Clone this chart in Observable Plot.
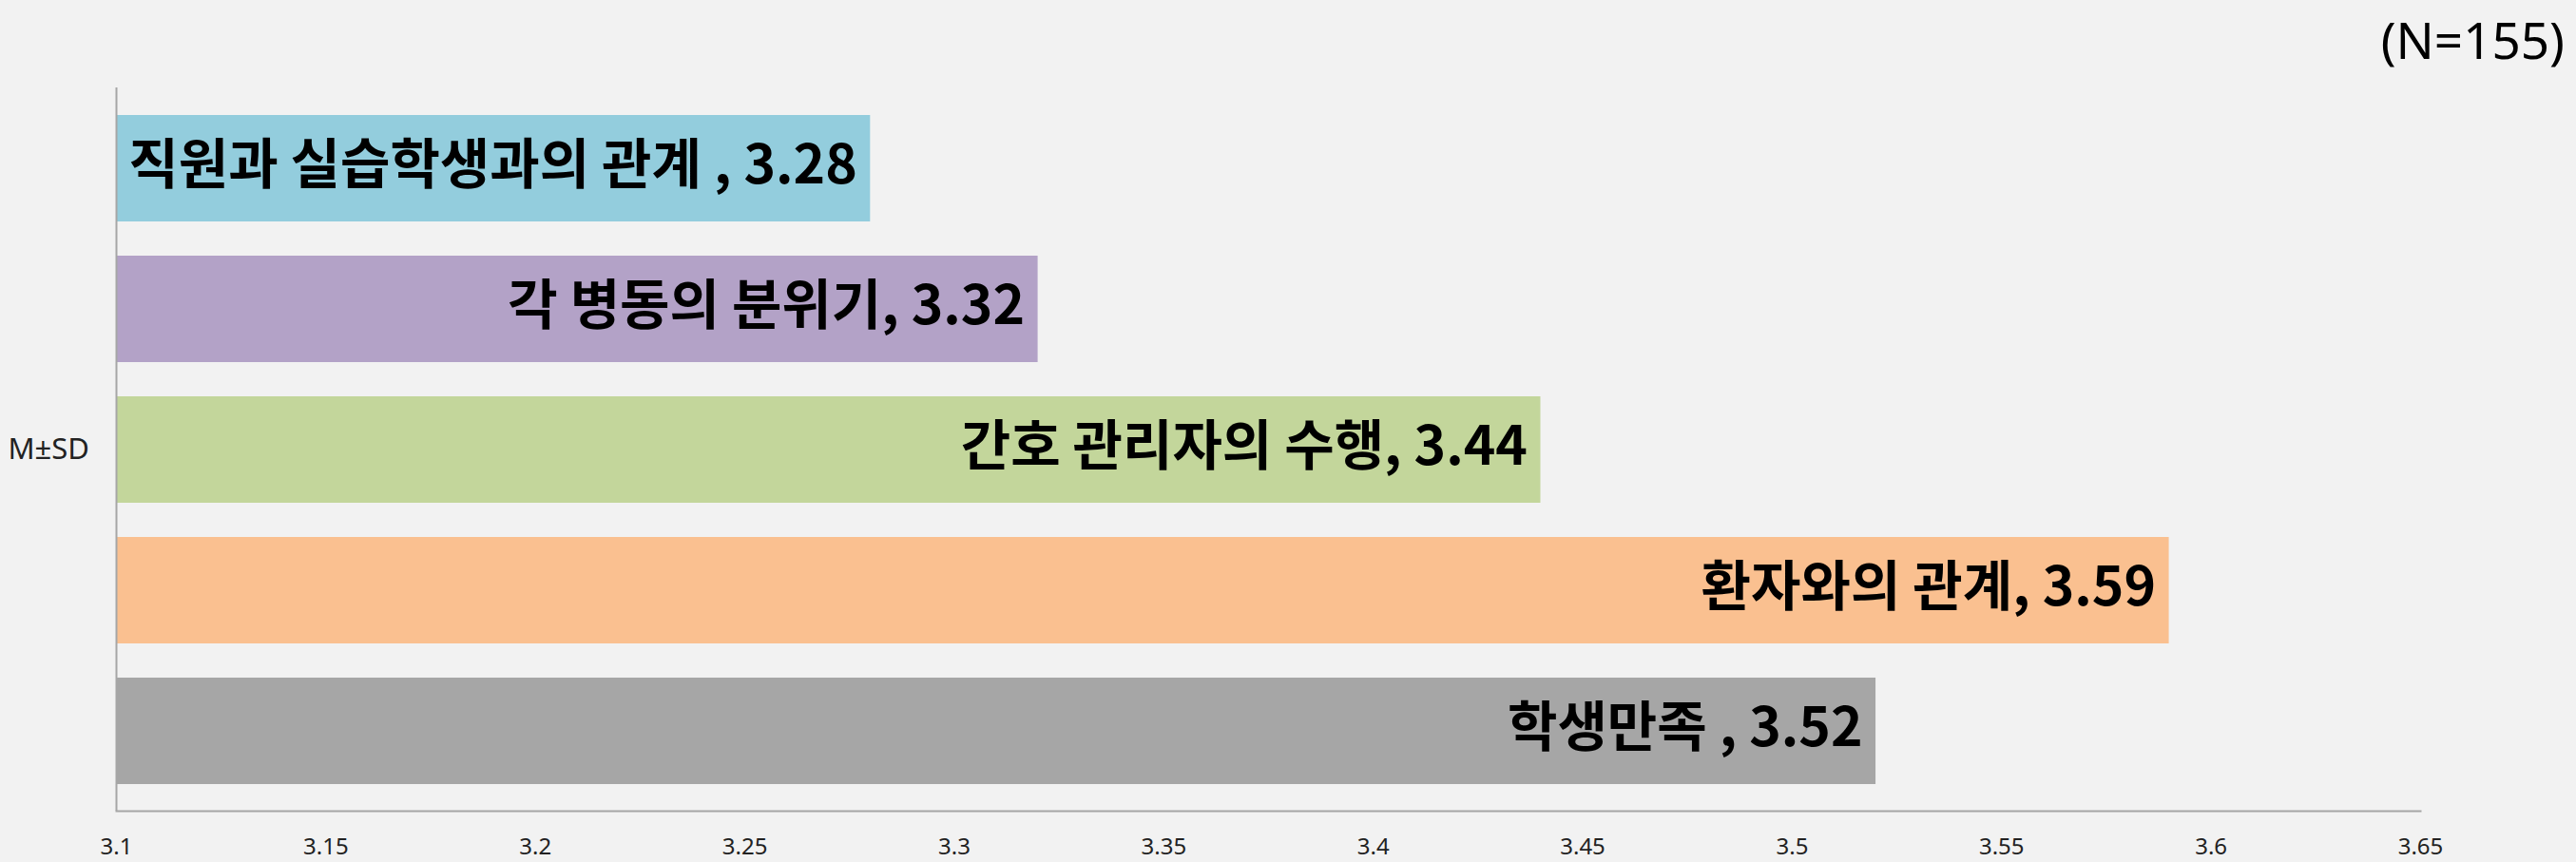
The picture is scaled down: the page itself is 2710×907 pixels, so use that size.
<!DOCTYPE html>
<html>
<head>
<meta charset="utf-8">
<script src="https://cdn.jsdelivr.net/npm/d3@7"></script>
<script src="https://cdn.jsdelivr.net/npm/@observablehq/plot@0.6"></script>
<style>
  html, body { margin: 0; padding: 0; background: #F2F2F2; }
  #wrap { position: relative; width: 2710px; height: 907px; }
  #n { position: absolute; right: 12px; top: 10px; font-family: "Noto Sans", "Open Sans", sans-serif; font-size: 53px; color: #000; line-height: 1.2; }
</style>
</head>
<body>
<div id="wrap">
  <div id="n">(N=155)</div>
</div>
<script>
const categories = ["직원과 실습학생과의 관계 ", "각 병동의 분위기", "간호 관리자의 수행", "환자와의 관계", "학생만족 "];
const values = [3.28, 3.32, 3.44, 3.59, 3.52];
const colors = ["#93CDDD", "#B3A2C7", "#C3D69B", "#FAC090", "#A6A6A6"];
const xTicks = [3.1, 3.15, 3.2, 3.25, 3.3, 3.35, 3.4, 3.45, 3.5, 3.55, 3.6, 3.65];
const xMin = 3.1, xMax = 3.65;
const yLabel = "M±SD";

const data = categories.map((c, i) => ({
  category: c,
  value: values[i],
  color: colors[i],
  label: c + ", " + values[i].toFixed(2)
}));

const font = "'Noto Sans CJK KR', 'Noto Sans', sans-serif";

const chart = Plot.plot({
  width: 2710,
  height: 907,
  marginLeft: 122,
  marginRight: 164,
  marginTop: 92,
  marginBottom: 54,
  style: { background: "#F2F2F2", fontFamily: "'Noto Sans', 'Open Sans', sans-serif", color: "#222", fontSize: "24px" },
  x: { domain: [xMin, xMax], ticks: xTicks, tickFormat: d => String(+d.toFixed(2)), tickSize: 0, tickPadding: 28, label: null },
  y: { domain: categories, axis: null, paddingInner: 0.246, paddingOuter: 0.1855 },
  marks: [
    Plot.barX(data, { x1: () => xMin, x2: "value", y: "category", fill: "color" }),
    Plot.text(data, { x: "value", y: "category", text: "label", textAnchor: "end", dx: -14, dy: -3,
      fontSize: 57, fontWeight: "bold", fontFamily: font, fill: "#000" }),
    Plot.ruleX([xMin], { stroke: "#A6A6A6", strokeWidth: 2 }),
    Plot.frame({ anchor: "bottom", stroke: "#A6A6A6", strokeWidth: 2 }),
    Plot.text([yLabel], { frameAnchor: "left", textAnchor: "start", dx: -114, fontSize: 31, fill: "#222" })
  ]
});
document.getElementById("wrap").appendChild(chart);
</script>
</body>
</html>
